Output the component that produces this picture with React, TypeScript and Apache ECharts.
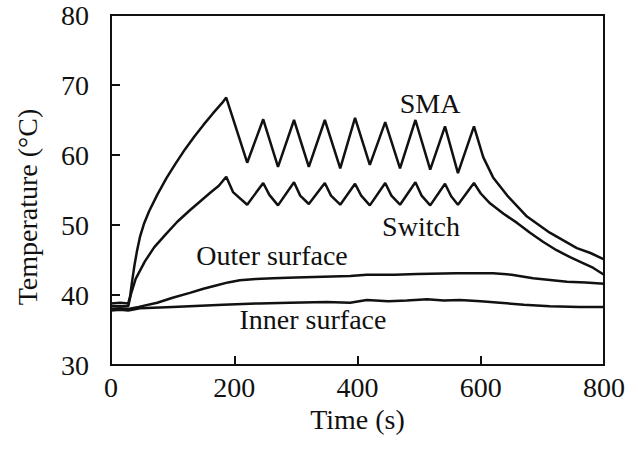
import React, { useEffect, useRef } from "react";
import * as echarts from "echarts";

// ---- Data ----
const xTicks = [0, 200, 400, 600, 800];
const yTicks = [30, 40, 50, 60, 70, 80];

const smaTime = [0, 15, 28, 31, 34, 38, 42, 47, 54, 62, 75, 90, 105, 120, 135, 150, 165, 180, 187, 221, 247, 271, 297, 321, 347, 372, 396, 420, 445, 469, 494, 518, 542, 563, 589, 604, 620, 643, 675, 712, 756, 778, 800];
const smaTemp = [38.8, 38.9, 38.8, 39.8, 41.8, 44.2, 46.2, 48.3, 50.3, 52.0, 54.3, 56.7, 58.8, 60.8, 62.6, 64.3, 65.9, 67.4, 68.2, 58.9, 65.1, 58.3, 65.0, 58.3, 65.0, 58.1, 65.3, 58.6, 64.7, 58.1, 65.0, 57.9, 64.1, 57.4, 64.1, 59.7, 56.8, 54.2, 51.2, 48.9, 46.7, 46.0, 45.1];

const switchTime = [0, 15, 28, 32, 40, 55, 70, 88, 108, 128, 145, 161, 175, 187, 198, 221, 247, 257, 271, 297, 307, 321, 347, 357, 372, 396, 406, 420, 445, 455, 469, 494, 504, 518, 542, 552, 563, 589, 600, 615, 637, 659, 680, 701, 723, 745, 765, 782, 800];
const switchTemp = [38.4, 38.4, 38.4, 40.0, 42.3, 44.8, 46.8, 48.6, 50.5, 52.1, 53.4, 54.6, 55.6, 56.9, 54.7, 52.9, 56.0, 54.3, 52.8, 56.1, 54.2, 53.0, 56.0, 54.2, 52.9, 55.9, 54.2, 52.8, 56.0, 54.2, 52.9, 56.1, 54.2, 52.8, 55.9, 54.1, 52.9, 56.0, 54.5, 53.1, 51.6, 50.3, 48.9, 47.6, 46.4, 45.4, 44.6, 43.9, 42.9];

const outerTime = [0, 15, 28, 45, 75, 100, 128, 150, 172, 190, 209, 235, 263, 300, 344, 388, 415, 460, 497, 560, 620, 650, 685, 740, 770, 800];
const outerTemp = [38.0, 38.1, 38.0, 38.3, 38.9, 39.6, 40.3, 40.9, 41.4, 41.8, 42.1, 42.3, 42.4, 42.5, 42.6, 42.7, 42.9, 42.9, 43.0, 43.1, 43.1, 42.9, 42.4, 41.9, 41.8, 41.6];

const innerTime = [0, 15, 28, 47, 100, 182, 240, 290, 350, 388, 415, 450, 480, 513, 540, 566, 600, 631, 670, 712, 760, 800];
const innerTemp = [37.8, 37.9, 37.8, 38.1, 38.3, 38.6, 38.8, 38.9, 39.0, 38.9, 39.3, 39.1, 39.2, 39.4, 39.2, 39.3, 39.1, 38.9, 38.6, 38.4, 38.3, 38.3];

const seriesNames = ["SMA", "Switch", "Outer surface", "Inner surface"];

const FONT = '"Liberation Serif", "Times New Roman", serif';

function pairs(t: number[], v: number[]) {
  return t.map((x, i) => [x, v[i]]);
}

export default function App() {
  const ref = useRef<HTMLDivElement>(null);

  useEffect(() => {
    if (!ref.current) return;
    const chart = echarts.init(ref.current, null, { renderer: "svg" });
    const lineStyle = { color: "#111", width: 2.5 };
    const mk = (name: string, t: number[], v: number[]) => ({
      name,
      type: "line",
      data: pairs(t, v),
      showSymbol: false,
      symbol: "none",
      lineStyle,
      smooth: false,
    });
    const textStyle = (text: string, x: number, y: number) => ({
      type: "text",
      x,
      y,
      style: {
        text,
        font: `28px ${FONT}`,
        fill: "#111",
        align: "center",
        verticalAlign: "middle",
      },
    });
    chart.setOption({
      animation: false,
      backgroundColor: "#fff",
      grid: {
        left: 111,
        right: 36,
        top: 15,
        bottom: 100,
        show: true,
        borderColor: "#111",
        borderWidth: 2,
        backgroundColor: "transparent",
      },
      xAxis: {
        type: "value",
        min: xTicks[0],
        max: xTicks[xTicks.length - 1],
        interval: 200,
        name: "Time (s)",
        nameLocation: "middle",
        nameGap: 32,
        nameTextStyle: { fontFamily: FONT, fontSize: 28, color: "#111" },
        axisLine: { show: true, onZero: false, lineStyle: { color: "#111", width: 2 } },
        axisTick: { show: true, inside: true, length: 9, lineStyle: { color: "#111", width: 2 } },
        axisLabel: { fontFamily: FONT, fontSize: 28, color: "#111", margin: 8 },
        splitLine: { show: false },
      },
      yAxis: {
        type: "value",
        min: yTicks[0],
        max: yTicks[yTicks.length - 1],
        interval: 10,
        name: "Temperature (°C)",
        nameLocation: "middle",
        nameGap: 70,
        nameRotate: 90,
        nameTextStyle: { fontFamily: FONT, fontSize: 28, color: "#111", padding: [0, 34, 0, 0] },
        axisLine: { show: true, onZero: false, lineStyle: { color: "#111", width: 2 } },
        axisTick: { show: true, inside: true, length: 9, lineStyle: { color: "#111", width: 2 } },
        axisLabel: { fontFamily: FONT, fontSize: 28, color: "#111", margin: 22 },
        splitLine: { show: false },
      },
      series: [
        mk(seriesNames[0], smaTime, smaTemp),
        mk(seriesNames[1], switchTime, switchTemp),
        mk(seriesNames[2], outerTime, outerTemp),
        mk(seriesNames[3], innerTime, innerTemp),
      ],
      graphic: [
        textStyle("SMA", 430, 103),
        textStyle("Switch", 421, 226),
        textStyle("Outer surface", 272, 255),
        textStyle("Inner surface", 313, 319),
      ],
    });
    return () => chart.dispose();
  }, []);

  return (
    <div
      ref={ref}
      style={{ position: "fixed", left: 0, top: 0, width: 640, height: 465, background: "#fff" }}
    />
  );
}
